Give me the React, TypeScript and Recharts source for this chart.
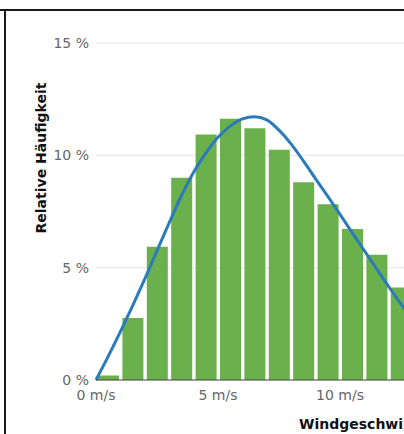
import { Bar, CartesianGrid, ComposedChart, Label, Line, XAxis, YAxis } from "recharts";

// measured histogram: bin centres in m/s, relative frequency in %
const binCenters = [0.5, 1.5, 2.5, 3.5, 4.5, 5.5, 6.5, 7.5, 8.5, 9.5, 10.5, 11.5, 12.5];
const binShares = [0.2, 2.76, 5.93, 9.0, 10.93, 11.63, 11.2, 10.25, 8.8, 7.82, 6.72, 5.57, 4.12];

// fitted distribution curve
const fitSpeeds = [0, 0.5, 1, 1.5, 2, 2.5, 3, 3.5, 4, 4.5, 5, 5.5, 6, 6.5, 7, 7.5, 8, 8.5, 9, 9.5, 10, 10.5, 11, 11.5, 12, 12.5, 13, 13.5];
const fitShares = [0, 1.05, 2.15, 3.3, 4.5, 5.75, 7.0, 8.2, 9.25, 10.1, 10.8, 11.3, 11.62, 11.72, 11.58, 11.12, 10.5, 9.75, 8.95, 8.17, 7.37, 6.56, 5.75, 4.95, 4.15, 3.38, 2.68, 2.05];

const xTicks = [0, 5, 10, 15, 20, 25];
const yTicks = [0, 5, 10, 15];

const bins = binCenters.map((speed, i) => ({ speed, share: binShares[i] }));
const fit = fitSpeeds.map((speed, i) => ({ speed, fit: fitShares[i] }));

const font = "'DejaVu Sans', Verdana, sans-serif";

function YTitle() {
  return (
    <text
      transform="translate(41, 158) rotate(-90)"
      textAnchor="middle"
      dominantBaseline="central"
      fontFamily={font}
      fontSize={14}
      fontWeight="bold"
      fill="#111"
    >
      Relative Häufigkeit
    </text>
  );
}

function XTitle() {
  return (
    <text x={299} y={429} textAnchor="start" fontFamily={font} fontSize={14} fontWeight="bold" fill="#111">
      Windgeschwindigkeit
    </text>
  );
}

export default function App() {
  return (
    <div
      style={{
        position: "fixed",
        left: 0,
        top: 0,
        width: 404,
        height: 434,
        overflow: "hidden",
        background: "#fff",
      }}
    >
      <div style={{ position: "absolute", left: 0, top: 0 }}>
        <ComposedChart
          width={720}
          height={434}
          data={bins}
          margin={{ top: 43, right: 14, bottom: 0, left: 36 }}
        >
          <CartesianGrid stroke="#e6e6e6" vertical={false} />
          <XAxis
            dataKey="speed"
            type="number"
            domain={[0, 25]}
            ticks={xTicks}
            tickFormatter={(v) => `${v} m/s`}
            height={54}
            tickLine={false}
            tickSize={6}
            tickMargin={4}
            axisLine={{ stroke: "#444" }}
            tick={{ fill: "#666", fontSize: 14, fontFamily: font }}
          >
            <Label content={<XTitle />} />
          </XAxis>
          <XAxis xAxisId="fit" dataKey="speed" type="number" domain={[0, 25]} hide />
          <YAxis
            type="number"
            domain={[0, 15]}
            ticks={yTicks}
            tickFormatter={(v) => `${v} %`}
            width={60}
            axisLine={false}
            tickLine={false}
            tickSize={5}
            tickMargin={2}
            tick={{ fill: "#666", fontSize: 14, fontFamily: font }}
          >
            <Label content={<YTitle />} />
          </YAxis>
          <Bar dataKey="share" fill="#6ab04c" barSize={21} isAnimationActive={false} />
          <Line
            data={fit}
            xAxisId="fit"
            dataKey="fit"
            type="monotone"
            stroke="#2b7bba"
            strokeWidth={3}
            dot={false}
            isAnimationActive={false}
          />
        </ComposedChart>
      </div>
      <div style={{ position: "absolute", left: 0, top: 9, width: 404, height: 2, background: "#1a1a1a" }} />
      <div style={{ position: "absolute", left: 4, top: 9, width: 2, height: 425, background: "#1a1a1a" }} />
    </div>
  );
}
